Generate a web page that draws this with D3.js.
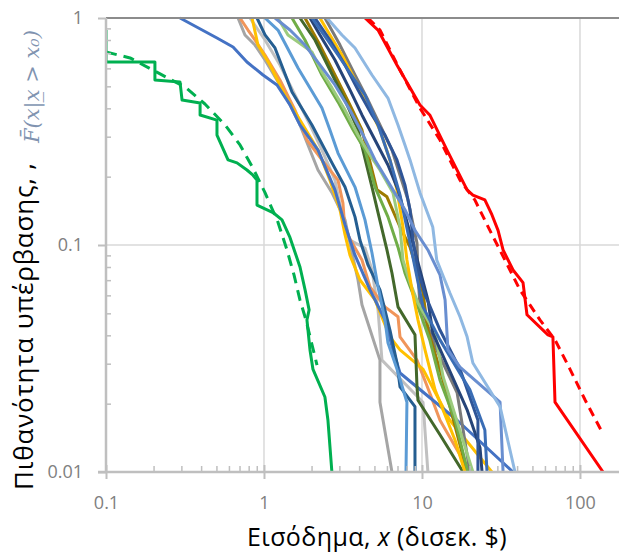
<!DOCTYPE html>
<html><head><meta charset="utf-8">
<script src="https://cdn.jsdelivr.net/npm/d3@7"></script>
<style>body{margin:0;background:#fff}svg{display:block}</style>
</head><body><svg id="c" width="619" height="554"></svg>
<script>
// ---------- DATA ----------
const xTickValues = [0.1, 1, 10, 100];
const xTickLabels = ["0.1", "1", "10", "100"];
const yTickValues = [0.01, 0.1, 1];
const yTickLabels = ["0.01", "0.1", "1"];
const xTitle = ["Εισόδημα, ", "x", " (δισεκ. $)"];
const yTitle = "Πιθανότητα υπέρβασης, ,";
const yFormula = "F\u0304(x|x\u0332 > x\u2080)";

// [income x, exceedance probability]
const greenObserved = [[0.1,0.885],[0.1,0.64],[0.204,0.64],[0.204,0.533],[0.294,0.523],[0.303,0.435],[0.394,0.422],[0.394,0.374],[0.504,0.355],[0.504,0.305],[0.592,0.237],[0.675,0.23],[0.78,0.214],[0.852,0.203],[0.903,0.193],[0.903,0.15],[1.14,0.139],[1.3,0.129],[1.46,0.108],[1.69,0.08],[1.82,0.0634],[1.93,0.0518],[1.87,0.0468],[1.955,0.0345],[2.04,0.0284],[2.43,0.0214],[2.54,0.0169],[2.69,0.01]];
const greenFitted = [[0.1,0.708],[0.142,0.667],[0.22,0.567],[0.316,0.497],[0.423,0.418],[0.567,0.338],[0.705,0.276],[0.852,0.218],[1.015,0.17],[1.226,0.126],[1.398,0.0951],[1.549,0.0738],[1.689,0.0573],[1.843,0.0468],[2.012,0.0364],[2.165,0.0296]];
const redObserved = [[4.36,1],[5.27,0.885],[6.94,0.621],[9.71,0.414],[11.2,0.374],[14.4,0.262],[19.3,0.175],[21.0,0.166],[25.0,0.158],[27.7,0.136],[30.3,0.116],[32.6,0.0951],[37.7,0.0776],[43.6,0.0683],[46.2,0.0493],[62.7,0.0402],[67.4,0.0394],[69.5,0.0203],[140,0.01]];
const redFitted = [[4.55,1],[5.42,0.885],[7.26,0.59],[9.71,0.401],[13.0,0.29],[17.4,0.193],[21.6,0.158],[26.9,0.116],[33.5,0.0859],[41.7,0.0634],[55.8,0.0468],[69.5,0.0382],[86.4,0.0284],[108,0.0207],[138,0.015]];

const blueA = [[0.294,1],[0.504,0.816],[0.637,0.745],[0.78,0.64],[0.986,0.561],[1.209,0.507],[1.461,0.414],[1.689,0.338],[2.197,0.262],[2.813,0.175],[3.257,0.123],[3.767,0.0902],[4.688,0.0634],[5.83,0.0468],[6.55,0.0345],[7.26,0.0273],[16.7,0.0169],[37.7,0.01]];
const orangeB = [[0.705,1],[0.792,0.885],[0.877,0.8],[1.015,0.687],[1.262,0.533],[1.571,0.393],[1.87,0.29],[2.327,0.237],[2.94,0.193],[3.16,0.153],[3.257,0.116],[4.17,0.0859],[4.688,0.0654],[5.83,0.0534],[7.05,0.0483],[7.26,0.0394],[9.3,0.0311],[11.2,0.0223],[13.0,0.0169],[20.1,0.01]];
const grayC = [[0.685,1],[0.758,0.842],[0.877,0.76],[1.015,0.653],[1.262,0.507],[1.461,0.414],[1.689,0.338],[2.197,0.214],[2.693,0.17],[3.257,0.129],[3.606,0.0922],[3.937,0.0701],[4.17,0.0545],[5.42,0.0311],[5.42,0.0203],[6.456,0.01]];
const grayD = [[0.815,1],[1.015,0.8],[1.262,0.621],[1.571,0.458],[1.955,0.338],[2.327,0.262],[2.813,0.193],[3.116,0.136],[3.5,0.105],[4.357,0.097],[4.826,0.0776],[5.27,0.0518],[5.58,0.0311],[10.15,0.0203],[10.9,0.01]];
const goldE = [[0.84,1],[0.916,0.76],[1.091,0.621],[1.358,0.458],[1.689,0.355],[2.197,0.262],[2.615,0.193],[3.027,0.143],[3.257,0.111],[3.5,0.0902],[4.052,0.0701],[5.042,0.0573],[6.27,0.0394],[7.26,0.0345],[10.15,0.0284],[15.0,0.0169],[27.7,0.01]];
const darkBlueF = [[0.903,1],[1.015,0.842],[1.174,0.738],[1.504,0.472],[2.012,0.338],[2.693,0.23],[3.257,0.18],[3.767,0.133],[4.052,0.105],[4.553,0.0817],[5.42,0.0634],[6.27,0.0422],[6.944,0.0302],[7.26,0.0237],[9.03,0.0194],[9.03,0.01]];
const lightBlueG = [[1.015,1],[1.226,0.885],[1.642,0.602],[2.327,0.401],[2.615,0.321],[2.94,0.254],[3.767,0.18],[4.357,0.129],[4.826,0.0922],[5.27,0.0654],[5.83,0.0468],[6.09,0.0371],[6.944,0.0284],[8.03,0.0203],[7.92,0.01]];
const lightGreenH = [[1.226,1],[1.418,0.842],[1.642,0.784],[2.012,0.708],[2.327,0.578],[2.693,0.492],[3.257,0.393],[3.937,0.305],[4.688,0.249],[5.42,0.214],[6.55,0.17],[7.26,0.12],[7.58,0.0859],[8.4,0.0683],[9.43,0.0556],[12.1,0.041],[13.6,0.0263],[21.0,0.01]];
const greenI = [[1.504,1],[1.817,0.8],[2.327,0.561],[2.94,0.427],[3.606,0.328],[4.357,0.262],[5.042,0.18],[6.09,0.133],[7.05,0.0978],[7.8,0.0753],[9.43,0.0534],[11.2,0.0382],[13.0,0.0254],[16.2,0.0169],[19.5,0.01]];
const darkGreenJ = [[1.689,1],[2.102,0.8],[2.615,0.59],[3.257,0.435],[3.937,0.321],[4.826,0.18],[5.27,0.139],[6.0,0.0951],[6.456,0.0753],[7.05,0.0534],[9.03,0.0402],[9.3,0.0237],[9.43,0.0207],[13.0,0.0146],[18.2,0.01]];
const brownK = [[1.817,1],[2.26,0.76],[2.813,0.561],[3.5,0.414],[4.17,0.321],[5.19,0.175],[6.0,0.163],[7.26,0.12],[8.4,0.0978],[9.3,0.0776],[10.15,0.0616],[10.9,0.0422],[13.4,0.0263],[19.3,0.01]];
const navyL = [[1.955,1],[2.26,0.842],[2.813,0.653],[3.5,0.482],[4.17,0.374],[5.042,0.29],[6.09,0.225],[7.05,0.175],[7.8,0.136],[8.65,0.105],[9.71,0.0776],[10.9,0.0573],[11.7,0.041],[19.3,0.0188],[23.3,0.0128],[24.0,0.01]];
const blueM = [[2.102,1],[2.615,0.8],[3.257,0.621],[3.937,0.482],[4.826,0.374],[5.83,0.305],[6.944,0.237],[7.8,0.184],[8.4,0.143],[8.78,0.105],[9.43,0.0776],[10.45,0.0604],[13.0,0.0422],[17.4,0.0284],[22.6,0.0169],[22.6,0.01]];
const goldN = [[2.26,1],[2.615,0.842],[3.116,0.687],[3.767,0.533],[4.553,0.414],[5.42,0.321],[6.27,0.237],[6.944,0.175],[7.58,0.12],[8.03,0.0859],[8.65,0.0634],[9.43,0.0468],[10.45,0.0345],[12.1,0.023],[16.2,0.0138],[18.7,0.01]];
const grayO = [[2.432,1],[3.027,0.76],[3.767,0.561],[4.553,0.435],[5.42,0.338],[6.456,0.262],[7.26,0.203],[8.15,0.158],[8.78,0.123],[9.3,0.102],[9.43,0.0738],[9.71,0.0545],[12.4,0.0345],[16.7,0.0223],[20.1,0.01]];
const blueP = [[1.174,1],[1.461,0.885],[1.817,0.76],[2.26,0.621],[2.813,0.507],[3.5,0.393],[4.24,0.305],[5.042,0.237],[6.27,0.184],[7.8,0.143],[9.03,0.116],[10.9,0.0951],[13.0,0.0738],[14.0,0.0573],[14.6,0.0345],[17.4,0.029],[31.2,0.0203],[32.6,0.01]];
const lightBlueQ = [[2.505,1],[3.116,0.842],[3.767,0.738],[4.826,0.561],[6.09,0.444],[7.05,0.338],[7.8,0.276],[8.4,0.237],[9.71,0.17],[11.7,0.12],[12.4,0.0859],[15.0,0.0616],[17.4,0.0483],[19.3,0.0394],[21.0,0.0302],[31.2,0.0194],[38.8,0.01]];
const blueR = [[2.012,1],[2.94,0.687],[4.357,0.458],[5.27,0.338],[6.27,0.237],[7.26,0.166],[8.4,0.102],[10.15,0.0534],[13.0,0.0382],[20.1,0.023],[25.0,0.0153],[25.8,0.01]];

// ---------- STYLES ----------
const series = [
  {data: grayD, color: "#C0C0C0"},
  {data: grayC, color: "#A5A5A5"},
  {data: orangeB, color: "#F0955A"},
  {data: goldE, color: "#FFC000"},
  {data: blueA, color: "#4472C4"},
  {data: darkBlueF, color: "#255E91"},
  {data: lightBlueG, color: "#5B9BD5"},
  {data: grayO, color: "#7A7A7A"},
  {data: brownK, color: "#9E7A00"},
  {data: darkGreenJ, color: "#43682B"},
  {data: greenI, color: "#70AD47"},
  {data: lightGreenH, color: "#9CCB7E"},
  {data: goldN, color: "#FFC000"},
  {data: navyL, color: "#264478"},
  {data: blueM, color: "#2F5597"},
  {data: blueR, color: "#3A6DB5"},
  {data: blueP, color: "#698ED0"},
  {data: lightBlueQ, color: "#8FB8E2"},
  {data: greenObserved, color: "#00B050"},
  {data: greenFitted, color: "#00B050", dash: "11,7"},
  {data: redObserved, color: "#FF0000"},
  {data: redFitted, color: "#FF0000", dash: "9,6"}
];

// ---------- CHART ----------
const svg = d3.select("#c");
const L = 106, R = 619, T = 18, B = 472;
const x = d3.scaleLog().domain([0.1, 176.6]).range([L, R]);
const y = d3.scaleLog().domain([0.01, 1]).range([B, T]);

const xMinor = [], yMinor = [];
[0.1, 1, 10, 100].forEach(d => { for (let k = 2; k <= 9; k++) if (d * k <= 176) xMinor.push(d * k); });
[0.01, 0.1].forEach(d => { for (let k = 2; k <= 9; k++) yMinor.push(d * k); });

// gridlines
const grid = svg.append("g");
grid.selectAll("line.v").data([1, 10, 100]).join("line")
  .attr("x1", d => x(d)).attr("x2", d => x(d)).attr("y1", T).attr("y2", B)
  .attr("stroke", "#D9D9D9").attr("stroke-width", 1.5);
grid.append("line").attr("x1", L).attr("x2", R).attr("y1", y(0.1)).attr("y2", y(0.1))
  .attr("stroke", "#D9D9D9").attr("stroke-width", 1.5);

// clip
svg.append("clipPath").attr("id", "clip").append("rect")
  .attr("x", L).attr("y", T - 2).attr("width", R - L).attr("height", B - T + 2);

const line = d3.line().x(d => x(d[0])).y(d => y(d[1]));
const plot = svg.append("g").attr("clip-path", "url(#clip)");
plot.selectAll("path").data(series).join("path")
  .attr("d", d => line(d.data))
  .attr("fill", "none")
  .attr("stroke", d => d.color)
  .attr("stroke-width", 3)
  .attr("stroke-linejoin", "round")
  .attr("stroke-dasharray", d => d.dash || null);

// top border (gridline at 1)
svg.append("line").attr("x1", L).attr("x2", R).attr("y1", y(1)).attr("y2", y(1))
  .attr("stroke", "#8C8C8C").attr("stroke-width", 2);

// x axis
const gx = svg.append("g").attr("transform", `translate(0,${B})`)
  .call(d3.axisBottom(x).tickValues(xTickValues).tickFormat((d, i) => xTickLabels[i]).tickSizeInner(7).tickSizeOuter(0).tickPadding(17));
gx.select(".domain").attr("stroke", "#BFBFBF").attr("stroke-width", 2.5).attr("d", `M${L - 8},0H${R}`);
gx.selectAll(".tick line").attr("stroke", "#BFBFBF").attr("stroke-width", 2).attr("y1", -7);
gx.selectAll(".tick text").attr("fill", "#808080").attr("font-family", "'Open Sans', sans-serif").attr("font-size", 18);
const gxm = svg.append("g").attr("transform", `translate(0,${B})`)
  .call(d3.axisBottom(x).tickValues(xMinor).tickFormat("").tickSizeInner(-6).tickSizeOuter(0));
gxm.select(".domain").remove();
gxm.selectAll(".tick line").attr("stroke", "#BFBFBF").attr("stroke-width", 1.5);

// y axis
const gy = svg.append("g").attr("transform", `translate(${L},0)`)
  .call(d3.axisLeft(y).tickValues(yTickValues).tickFormat((d, i) => yTickLabels[i]).tickSizeInner(8).tickSizeOuter(0).tickPadding(15));
gy.select(".domain").attr("stroke", "#BFBFBF").attr("stroke-width", 2.5).attr("d", `M0,${T}V${B}`);
gy.selectAll(".tick line").attr("stroke", "#BFBFBF").attr("stroke-width", 2);
gy.selectAll(".tick text").attr("fill", "#808080").attr("font-family", "'Open Sans', sans-serif").attr("font-size", 18);
const gym = svg.append("g").attr("transform", `translate(${L},0)`)
  .call(d3.axisLeft(y).tickValues(yMinor).tickFormat("").tickSizeInner(-5).tickSizeOuter(0));
gym.select(".domain").remove();
gym.selectAll(".tick line").attr("stroke", "#BFBFBF").attr("stroke-width", 1.5);

// titles
const xt = svg.append("text").attr("x", 377).attr("y", 546).attr("text-anchor", "middle")
  .attr("font-family", "'Open Sans', sans-serif").attr("font-size", 25).attr("letter-spacing", 0.4).attr("fill", "#000");
xt.append("tspan").text(xTitle[0]);
xt.append("tspan").attr("font-style", "italic").text(xTitle[1]);
xt.append("tspan").text(xTitle[2]);

svg.append("text").attr("transform", "translate(33,490) rotate(-90)")
  .attr("font-family", "'Open Sans', sans-serif").attr("font-size", 26).attr("letter-spacing", 0.8).attr("fill", "#000")
  .text(yTitle);
svg.append("text").attr("transform", "translate(39,143) rotate(-90)")
  .attr("font-family", "'DejaVu Serif', serif").attr("font-style", "italic").attr("font-size", 21)
  .attr("fill", "#8093B0").text(yFormula);
</script></body></html>
